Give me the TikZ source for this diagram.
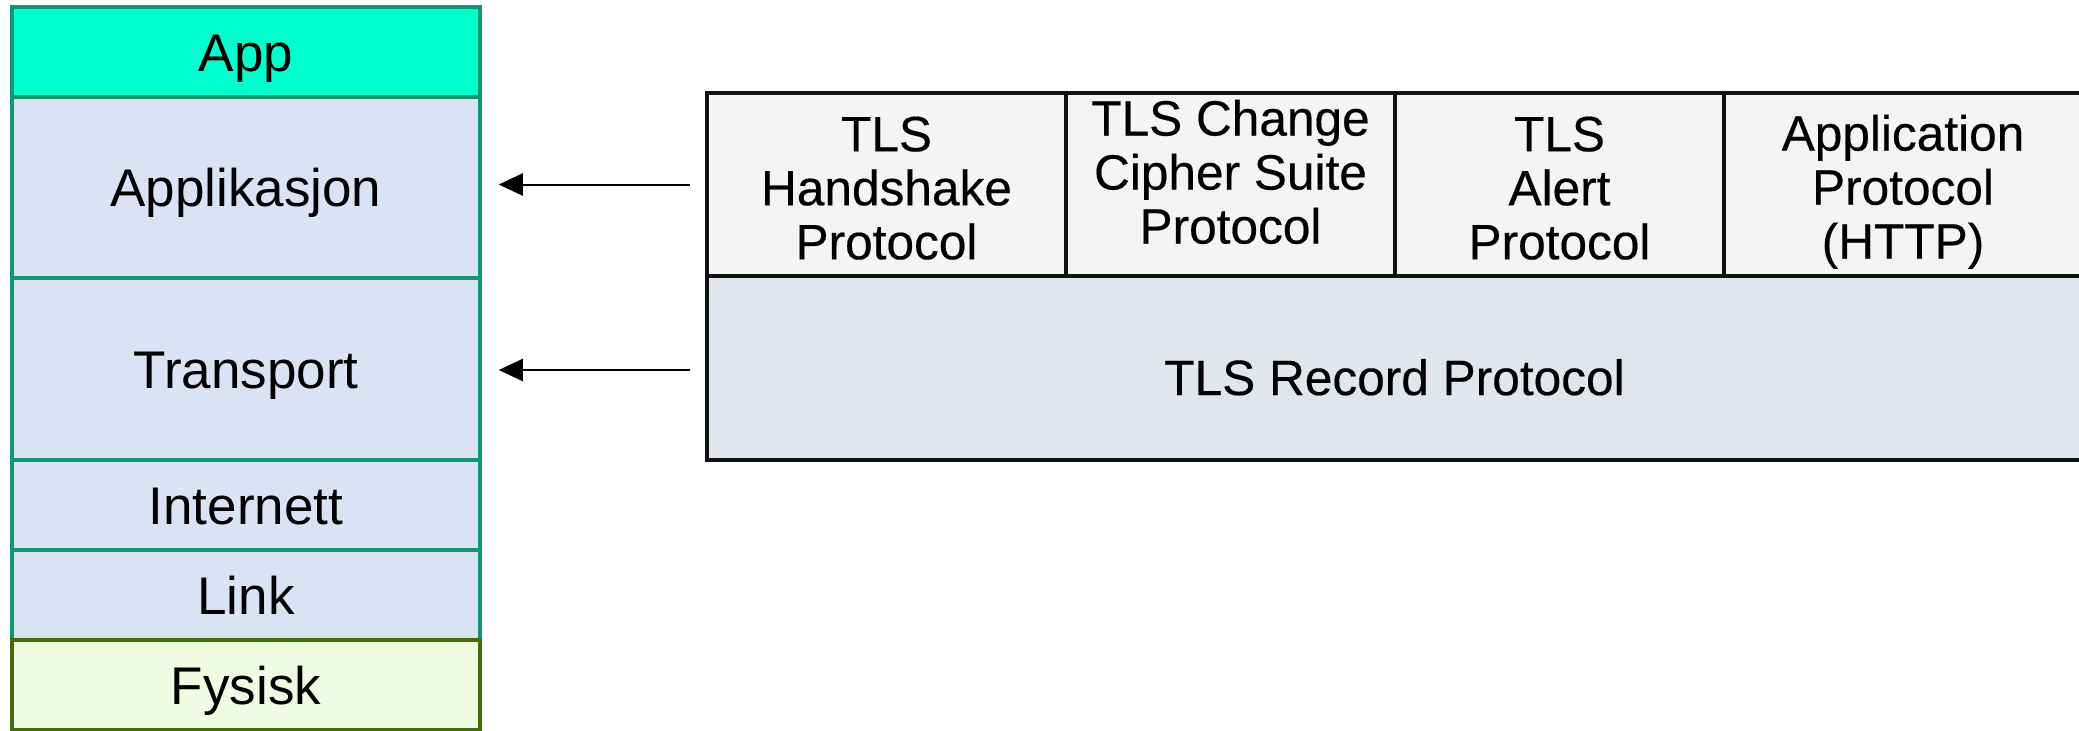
\documentclass[tikz,border=0pt]{standalone}
\usepackage{fontspec}
\setmainfont{Liberation Sans}
\newfontfamily\tlsfont{Liberation Sans}[FakeBold=0.35]
\usetikzlibrary{arrows.meta,calc}
\definecolor{appc}{RGB}{0,255,204}
\definecolor{tealb}{RGB}{16,150,115}
\definecolor{lblue}{RGB}{218,227,243}
\definecolor{fysfill}{RGB}{239,252,226}
\definecolor{fysline}{RGB}{66,108,14}
\definecolor{tlstop}{RGB}{244,244,244}
\definecolor{tlsrec}{RGB}{224,230,235}
\definecolor{tlsline}{RGB}{17,17,17}
\begin{document}
\begin{tikzpicture}[x=0.5pt,y=-0.5pt,
  layer/.style={draw=tealb, line width=1.75pt, fill=lblue, minimum width=234pt,
    inner sep=0pt, font=\fontsize{26.5}{30}\selectfont, text height=19pt, text depth=0pt},
  tlsbox/.style={draw=tlsline, line width=1.8pt, fill=tlstop, inner sep=0pt},
  tlstext/.style={font=\tlsfont\fontsize{24.8}{27}\selectfont, align=center, inner sep=0pt, anchor=north},
  arr/.style={-{Triangle[length=12pt,width=11pt]}, line width=1pt, black}]
\clip (0,0) rectangle (2079,730);
\fill[white] (0,0) rectangle (2079,730);
% left stack
\node[layer, fill=appc, minimum height=45pt] (app) at (246,52) {App};
\node[layer, minimum height=90.5pt] (appl) at (246,187.5) {Applikasjon};
\node[layer, minimum height=91pt] (transp) at (246,369) {Transport};
\node[layer, minimum height=45pt] (inet) at (246,505) {Internett};
\node[layer, minimum height=45pt] (link) at (246,595) {Link};
\node[layer, draw=fysline, fill=fysfill, minimum height=45pt] (fys) at (246,685) {Fysisk};
% TLS stack
\node[tlsbox, fill=tlsrec, minimum width=687.5pt, minimum height=92pt] (rec) at (1394.5,368) {};
\node[tlsbox, minimum width=179.5pt, minimum height=91.5pt] (hs) at (886.5,184.5) {};
\node[tlsbox, minimum width=164.5pt, minimum height=91.5pt] (cc) at (1230.5,184.5) {};
\node[tlsbox, minimum width=164.5pt, minimum height=91.5pt] (al) at (1559.5,184.5) {};
\node[tlsbox, minimum width=179pt, minimum height=91.5pt] (ap) at (1903,184.5) {};
\node[tlstext] (hst) at ($(hs.north)+(0,25)$) {TLS\\Handshake\\Protocol};
\node[tlstext] (cct) at ($(cc.north)+(0,8)$) {TLS Change\\Cipher Suite\\Protocol};
\node[tlstext] (alt) at ($(al.north)+(0,25)$) {TLS\\Alert\\Protocol};
\node[tlstext] (apt) at ($(ap.north)+(0,23)$) {Application\\Protocol\\(HTTP)};
\node[font=\tlsfont\fontsize{24.8}{27}\selectfont, inner sep=0pt, anchor=base] (rect) at (1394.5,395) {TLS Record Protocol};
% arrows
\draw[arr] ($(hs.west)+(-15,0)$) -- ($(appl.east |- hs.west)+(17,0)$);
\draw[arr] ($(rec.west)+(-15,2)$) -- ($(transp.east |- rec.west)+(17,2)$);
\end{tikzpicture}
\end{document}
